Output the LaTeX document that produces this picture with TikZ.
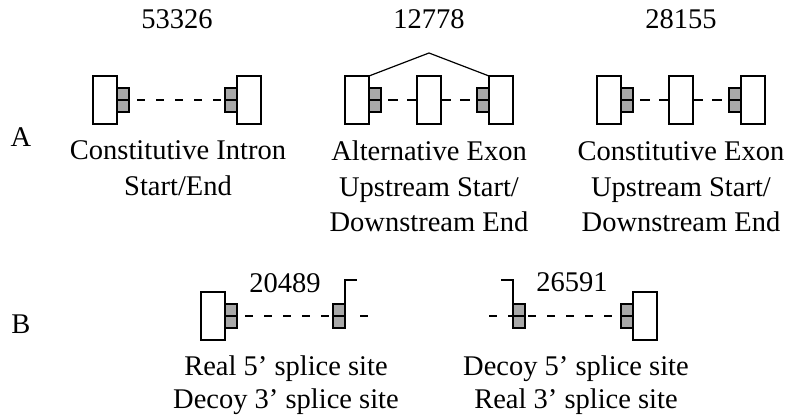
\documentclass[tikz,border=0pt]{standalone}
\usepackage{fontspec}
\setmainfont{Liberation Serif}
\definecolor{sitegray}{gray}{0.66}
\begin{document}
\begin{tikzpicture}[x=1pt,y=-1pt,
  exon/.style={draw, fill=white, line width=1.2pt, minimum width=24pt,
    minimum height=48pt, inner sep=0pt, outer sep=0pt},
  site/.style={draw, fill=sitegray, line width=1.2pt, minimum width=12pt,
    minimum height=24pt, inner sep=0pt, outer sep=0pt},
  wire/.style={line width=1.2pt},
  intron/.style={line width=1.2pt, dash pattern=on 8pt off 11pt},
  intronB/.style={line width=1.2pt, dash pattern=on 10pt off 9pt},
  txt/.style={font=\fontsize{28.5pt}{34pt}\selectfont, inner sep=0pt, anchor=base}]
\useasboundingbox (0,0) rectangle (787,419);

% ---- counts above row A
\node[txt] (n1) at (177,29) {53326};
\node[txt] (n2) at (429,29) {12778};
\node[txt] (n3) at (681,29) {28155};

% ---- row labels
\node[txt] (labA) at (21,147) {A};
\node[txt] (labB) at (21,334) {B};

% ---- A1: constitutive intron start/end
\node[exon] (e1a) at (105,100) {};
\node[site] (s1a) at (123,100) {};
\node[site] (s1b) at (231,100) {};
\node[exon] (e1b) at (249,100) {};
\draw[wire] (e1a.east) -- (s1a.east);
\draw[wire] (s1b.west) -- (e1b.west);
\draw[intron, dash phase=11pt] (s1a.east) -- (s1b.west);

% ---- A2: alternative exon
\node[exon] (e2a) at (357,100) {};
\node[site] (s2a) at (375,100) {};
\node[exon] (e2m) at (429,100) {};
\node[site] (s2b) at (483,100) {};
\node[exon] (e2b) at (501,100) {};
\draw[wire] (e2a.east) -- (s2a.east);
\draw[wire] (s2b.west) -- (e2b.west);
\draw[intronB, dash phase=12pt] (s2a.east) -- (e2m.west);
\draw[intronB] (e2m.east) -- (s2b.west);
\coordinate (peak) at (429,53);
\draw[wire] (e2a.north east) -- (peak) -- (e2b.north west);

% ---- A3: constitutive exon
\node[exon] (e3a) at (609,100) {};
\node[site] (s3a) at (627,100) {};
\node[exon] (e3m) at (681,100) {};
\node[site] (s3b) at (735,100) {};
\node[exon] (e3b) at (753,100) {};
\draw[wire] (e3a.east) -- (s3a.east);
\draw[wire] (s3b.west) -- (e3b.west);
\draw[intronB, dash phase=12pt] (s3a.east) -- (e3m.west);
\draw[intronB] (e3m.east) -- (s3b.west);

% ---- row A captions
\node[txt] (c1a) at (178,160) {Constitutive Intron};
\node[txt] (c1b) at (178,196) {Start/End};
\node[txt] (c2a) at (429,161) {Alternative Exon};
\node[txt] (c2b) at (429,197) {Upstream Start/};
\node[txt] (c2c) at (429,232) {Downstream End};
\node[txt] (c3a) at (681,161) {Constitutive Exon};
\node[txt] (c3b) at (681,197) {Upstream Start/};
\node[txt] (c3c) at (681,232) {Downstream End};

% ---- B1: real 5' site, decoy 3' site
\node[exon] (e4a) at (213,316) {};
\node[site] (s4a) at (231,316) {};
\node[site] (s4b) at (339,316) {};
\draw[wire] (e4a.east) -- (s4a.east);
\draw[wire] (s4b.west) -- (s4b.east);
\draw[intron, dash phase=11pt] (s4a.east) -- (s4b.west);
\coordinate (t1) at (368,316);
\draw[line width=1.2pt, dash pattern=on 0pt off 15pt on 8pt off 30pt] (s4b.east) -- (t1);
\coordinate (k1) at (357,280);
\draw[wire] (s4b.north east) |- (k1);
\node[txt] (n4) at (285,293) {20489};

% ---- B2: decoy 5' site, real 3' site
\node[site] (s5a) at (519,316) {};
\node[site] (s5b) at (627,316) {};
\node[exon] (e5b) at (645,316) {};
\draw[wire] (s5a.west) -- (s5a.east);
\draw[wire] (s5b.west) -- (e5b.west);
\draw[intron, dash phase=16pt] (s5a.east) -- (s5b.west);
\coordinate (t2) at (489,316);
\draw[intron] (t2) -- (s5a.west);
\coordinate (k2) at (501,280);
\draw[wire] (s5a.north west) |- (k2);
\node[txt] (n5) at (572,292) {26591};

% ---- row B captions
\node[txt] (d1a) at (286,376) {Real 5’ splice site};
\node[txt] (d1b) at (286,409) {Decoy 3’ splice site};
\node[txt] (d2a) at (576,376) {Decoy 5’ splice site};
\node[txt] (d2b) at (576,409) {Real 3’ splice site};
\end{tikzpicture}
\end{document}
